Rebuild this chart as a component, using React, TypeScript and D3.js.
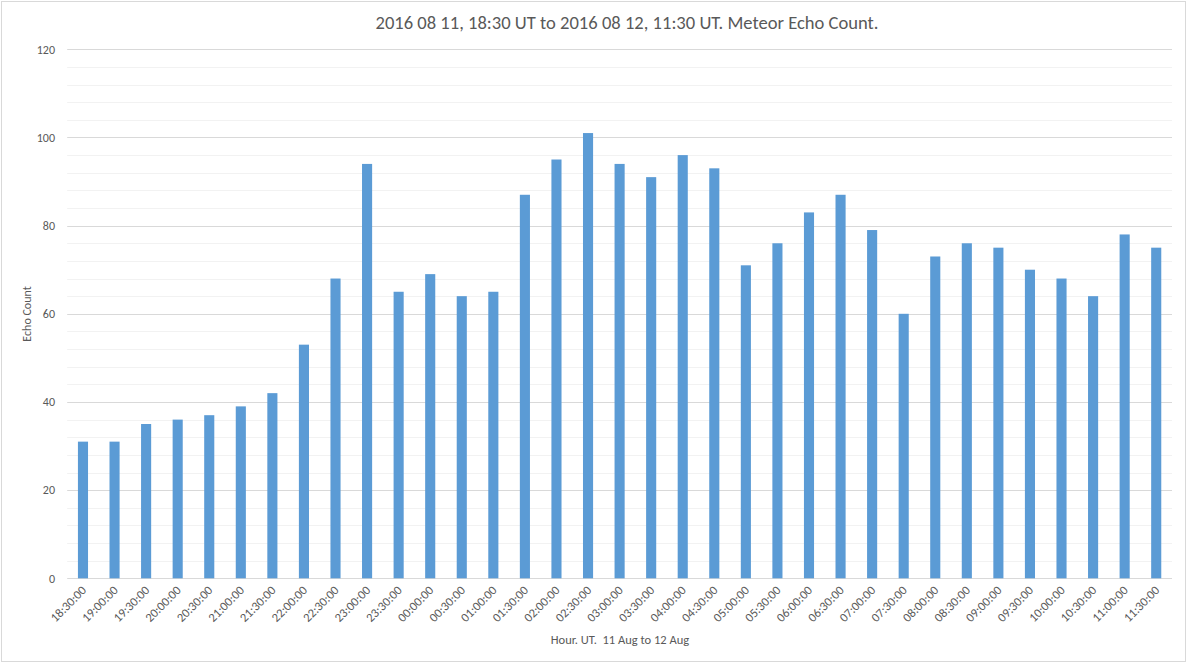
import { useEffect, useRef } from "react";
import * as d3 from "d3";

const hours = [
  "18:30:00", "19:00:00", "19:30:00", "20:00:00", "20:30:00", "21:00:00", "21:30:00",
  "22:00:00", "22:30:00", "23:00:00", "23:30:00", "00:00:00", "00:30:00", "01:00:00",
  "01:30:00", "02:00:00", "02:30:00", "03:00:00", "03:30:00", "04:00:00", "04:30:00",
  "05:00:00", "05:30:00", "06:00:00", "06:30:00", "07:00:00", "07:30:00", "08:00:00",
  "08:30:00", "09:00:00", "09:30:00", "10:00:00", "10:30:00", "11:00:00", "11:30:00",
];
const echoCounts = [
  31, 31, 35, 36, 37, 39, 42, 53, 68, 94, 65, 69, 64, 65, 87, 95, 101, 94, 91, 96, 93,
  71, 76, 83, 87, 79, 60, 73, 76, 75, 70, 68, 64, 78, 75,
];
const yTicks = [0, 20, 40, 60, 80, 100, 120];

const W = 1187;
const H = 663;
const FONT = "Carlito, Calibri, 'Liberation Sans', Arial, sans-serif";
const TEXT = "#595959";

const App = () => {
  const ref = useRef<SVGSVGElement | null>(null);

  useEffect(() => {
    if (!ref.current) return;
    const svg = d3.select(ref.current);
    svg.selectAll("*").remove();

    const left = 67.2;
    const right = 1172;
    const top = 49.3;
    const bottom = 578.3;

    const x = d3.scaleBand<string>().domain(hours).range([left, right]).paddingInner(0.68).paddingOuter(0.34);
    const y = d3.scaleLinear().domain([0, 120]).range([bottom, top]);

    // chart border
    svg
      .append("rect")
      .attr("x", 1.5)
      .attr("y", 1.5)
      .attr("width", W - 3)
      .attr("height", H - 3)
      .attr("fill", "#fff")
      .attr("stroke", "#D9D9D9");

    // minor gridlines
    svg
      .append("g")
      .selectAll("line")
      .data(d3.range(0, 121, 4).filter(v => v % 20 !== 0))
      .enter()
      .append("line")
      .attr("x1", left)
      .attr("x2", right)
      .attr("y1", d => Math.round(y(d)) + 0.5)
      .attr("y2", d => Math.round(y(d)) + 0.5)
      .attr("stroke", "#F2F2F2");

    // major gridlines
    svg
      .append("g")
      .selectAll("line")
      .data(yTicks)
      .enter()
      .append("line")
      .attr("x1", left)
      .attr("x2", right)
      .attr("y1", d => Math.round(y(d)) + 0.5)
      .attr("y2", d => Math.round(y(d)) + 0.5)
      .attr("stroke", "#D9D9D9");

    // y tick labels
    svg
      .append("g")
      .selectAll("text")
      .data(yTicks)
      .enter()
      .append("text")
      .attr("x", 55)
      .attr("y", d => y(d))
      .attr("dy", "0.35em")
      .attr("text-anchor", "end")
      .attr("fill", TEXT)
      .attr("font-family", FONT)
      .attr("font-size", 12)
      .text(d => d);

    // bars
    svg
      .append("g")
      .selectAll("rect")
      .data(echoCounts)
      .enter()
      .append("rect")
      .attr("x", (_, i) => x(hours[i])!)
      .attr("width", x.bandwidth())
      .attr("y", d => y(d))
      .attr("height", d => bottom - y(d))
      .attr("fill", "#5B9BD5");

    // x tick labels
    svg
      .append("g")
      .selectAll("text")
      .data(hours)
      .enter()
      .append("text")
      .attr("transform", d => `translate(${x(d)! + x.bandwidth() / 2 + 1}, 588) rotate(-45)`)
      .attr("text-anchor", "end")
      .attr("dy", "0.35em")
      .attr("fill", TEXT)
      .attr("font-family", FONT)
      .attr("font-size", 12.5)
      .text(d => d);

    // title
    svg
      .append("text")
      .attr("x", 627)
      .attr("y", 29)
      .attr("text-anchor", "middle")
      .attr("fill", TEXT)
      .attr("font-family", FONT)
      .attr("font-size", 18.5)
      .attr("textLength", 503)
      .attr("lengthAdjust", "spacingAndGlyphs")
      .text("2016 08 11, 18:30 UT to 2016 08 12, 11:30 UT. Meteor Echo Count.");

    // axis titles
    svg
      .append("text")
      .attr("transform", "translate(31, 314) rotate(-90)")
      .attr("text-anchor", "middle")
      .attr("fill", TEXT)
      .attr("font-family", FONT)
      .attr("font-size", 12)
      .text("Echo Count");

    svg
      .append("text")
      .attr("x", 620)
      .attr("y", 644)
      .attr("text-anchor", "middle")
      .attr("fill", TEXT)
      .attr("font-family", FONT)
      .attr("font-size", 12.5)
      .style("white-space", "pre")
      .text("Hour. UT.  11 Aug to 12 Aug");
  }, []);

  return (
    <div style={{ position: "absolute", left: 0, top: 0, width: W, height: H }}>
      <svg ref={ref} width={W} height={H} viewBox={`0 0 ${W} ${H}`} style={{ display: "block" }} />
    </div>
  );
};

export default App;
